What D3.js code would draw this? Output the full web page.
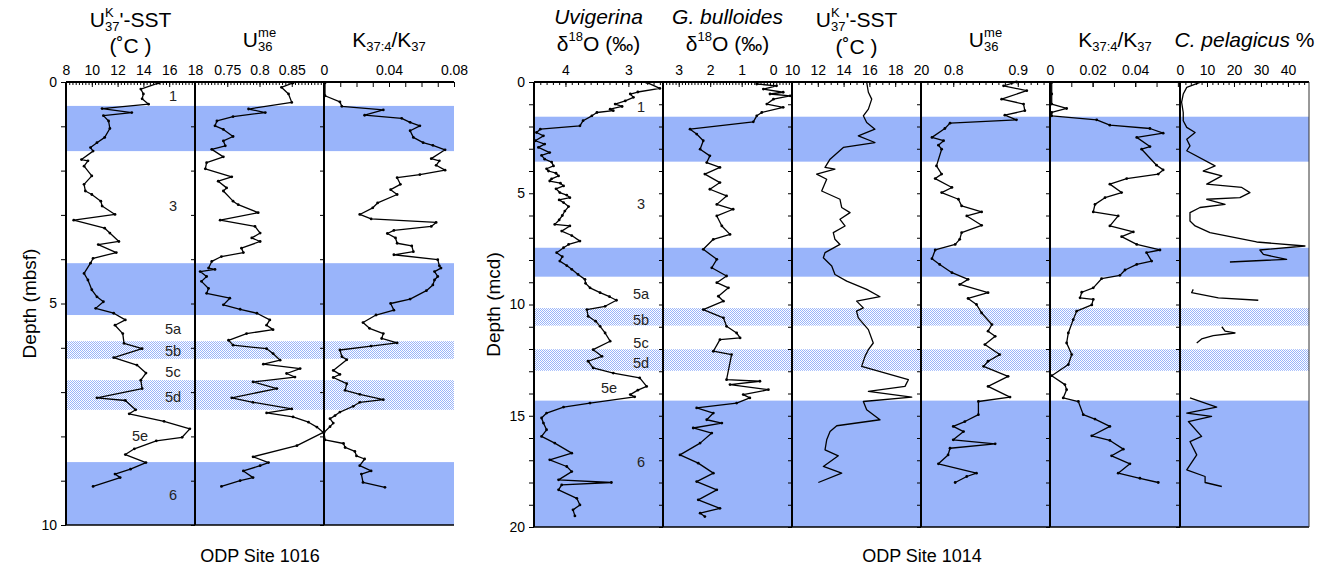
<!DOCTYPE html>
<html>
<head>
<meta charset="utf-8">
<script src="https://cdn.jsdelivr.net/npm/d3@7"></script>
<style>
body { margin: 0; background: #fff; }
text { font-family: "Liberation Sans", Arial, Helvetica, sans-serif; fill: #000; }
</style>
</head>
<body>
<svg width="1333" height="570"></svg>
<script>
// ---- data: [depth, value] ----
const sst1016 = [[0.02,15.2],[0.16,13.8],[0.27,14.0],[0.38,13.9],[0.5,14.4],[0.6,10.8],[0.69,13.1],[0.76,10.9],[0.88,11.3],[1.05,11.4],[1.25,11.0],[1.37,10.4],[1.48,9.9],[1.56,10.1],[1.75,9.2],[1.78,9.7],[1.9,9.4],[2.12,10.0],[2.31,9.4],[2.46,9.5],[2.54,10.0],[2.69,10.7],[2.8,10.8],[2.99,11.8],[3.12,8.6],[3.3,11.0],[3.41,11.4],[3.6,12.1],[3.67,10.5],[3.85,11.9],[3.98,10.1],[4.09,9.9],[4.32,9.4],[4.47,9.7],[4.69,10.0],[4.85,10.4],[4.96,10.9],[5.11,10.3],[5.22,11.7],[5.37,12.6],[5.49,11.8],[5.68,12.4],[5.9,12.5],[6.02,13.9],[6.22,11.7],[6.39,13.5],[6.57,14.2],[6.73,13.8],[6.92,13.9],[7.13,10.4],[7.19,12.6],[7.4,13.4],[7.49,12.9],[7.66,15.6],[7.83,17.6],[8.02,17.0],[8.1,15.0],[8.28,13.3],[8.41,12.6],[8.59,14.2],[8.74,13.0],[8.85,11.8],[8.93,12.2],[9.13,10.1]];

const ume1016 = [[0.02,0.852],[0.12,0.834],[0.27,0.845],[0.46,0.850],[0.61,0.783],[0.69,0.809],[0.78,0.759],[0.88,0.734],[0.99,0.731],[1.07,0.744],[1.23,0.759],[1.33,0.744],[1.44,0.747],[1.52,0.726],[1.69,0.744],[1.82,0.718],[1.96,0.716],[2.14,0.757],[2.24,0.736],[2.39,0.749],[2.46,0.744],[2.69,0.759],[2.77,0.767],[2.95,0.798],[3.12,0.739],[3.26,0.793],[3.41,0.801],[3.52,0.788],[3.6,0.801],[3.75,0.772],[3.85,0.775],[3.94,0.741],[4.05,0.726],[4.2,0.721],[4.23,0.731],[4.28,0.708],[4.39,0.718],[4.5,0.710],[4.66,0.721],[4.77,0.718],[4.88,0.754],[5.03,0.744],[5.13,0.770],[5.22,0.796],[5.37,0.816],[5.49,0.811],[5.59,0.821],[5.68,0.780],[5.83,0.752],[5.94,0.759],[6.02,0.811],[6.13,0.821],[6.28,0.832],[6.37,0.806],[6.47,0.863],[6.58,0.842],[6.66,0.855],[6.77,0.790],[6.92,0.827],[7.13,0.757],[7.23,0.790],[7.38,0.850],[7.47,0.811],[7.56,0.852],[7.68,0.876],[7.79,0.889],[7.91,0.899],[8.21,0.858],[8.46,0.790],[8.59,0.814],[8.66,0.801],[8.78,0.775],[8.93,0.790],[9.0,0.770],[9.13,0.741]];

const k1016 = [[0.02,0.0006],[0.31,0.0006],[0.45,0.0098],[0.55,0.011],[0.63,0.0365],[0.75,0.025],[0.82,0.0478],[0.91,0.053],[0.99,0.059],[1.1,0.053],[1.25,0.055],[1.37,0.061],[1.43,0.067],[1.53,0.0745],[1.73,0.066],[1.78,0.071],[1.88,0.069],[1.99,0.0745],[2.09,0.059],[2.16,0.045],[2.31,0.047],[2.43,0.041],[2.54,0.045],[2.73,0.033],[2.84,0.030],[2.99,0.022],[3.09,0.029],[3.17,0.069],[3.26,0.066],[3.35,0.043],[3.42,0.039],[3.52,0.044],[3.64,0.045],[3.7,0.054],[3.83,0.055],[3.9,0.043],[4.01,0.070],[4.15,0.071],[4.2,0.072],[4.28,0.068],[4.39,0.070],[4.47,0.068],[4.58,0.067],[4.71,0.063],[4.9,0.053],[5.0,0.041],[5.15,0.043],[5.26,0.032],[5.43,0.024],[5.56,0.028],[5.68,0.0365],[5.79,0.0355],[5.89,0.045],[5.96,0.029],[6.05,0.0098],[6.2,0.011],[6.27,0.014],[6.51,0.0057],[6.6,0.0098],[6.67,0.0057],[6.81,0.014],[6.96,0.013],[7.05,0.022],[7.17,0.0365],[7.23,0.022],[7.32,0.018],[7.45,0.0098],[7.53,0.0068],[7.6,0.0037],[7.7,0.0057],[7.78,0.0037],[7.91,0],[8.08,0.0006],[8.16,0.012],[8.25,0.013],[8.34,0.019],[8.44,0.020],[8.51,0.025],[8.66,0.022],[8.78,0.029],[8.85,0.023],[9.04,0.024],[9.15,0.0375]];

const uvig1014 = [[0.02,2.71],[0.29,2.50],[0.45,2.85],[0.54,2.97],[0.69,2.92],[0.85,3.05],[0.99,3.21],[1.1,3.1],[1.22,3.29],[1.29,3.24],[1.37,3.50],[1.52,3.58],[1.74,3.72],[1.97,3.77],[2.12,4.40],[2.27,4.46],[2.42,4.35],[2.64,4.48],[2.79,4.33],[2.94,4.43],[3.17,4.25],[3.3,4.38],[3.47,4.33],[3.6,4.22],[3.77,4.19],[3.9,4.3],[4.0,4.27],[4.1,4.15],[4.22,4.11],[4.35,4.22],[4.45,4.25],[4.55,4.08],[4.67,4.03],[4.8,4.15],[4.97,4.09],[5.08,3.98],[5.2,3.93],[5.3,4.1],[5.42,4.03],[5.6,3.95],[5.8,4.01],[6.0,4.05],[6.2,4.1],[6.4,4.17],[6.47,3.93],[6.7,4.06],[6.9,3.9],[7.15,3.77],[7.3,3.95],[7.45,4.03],[7.67,4.14],[7.85,4.05],[8.05,4.09],[8.25,3.98],[8.42,3.90],[8.65,3.8],[8.87,3.69],[9.05,3.68],[9.25,3.61],[9.47,3.45],[9.65,3.3],[9.81,3.19],[10.08,3.37],[10.23,3.66],[10.53,3.64],[10.75,3.52],[10.98,3.45],[11.28,3.37],[11.65,3.29],[12.03,3.56],[12.33,3.42],[12.55,3.64],[12.85,3.56],[13.08,3.24],[13.3,2.82],[13.68,2.71],[13.85,2.85],[14.05,2.97],[14.15,2.9],[14.43,3.61],[14.61,4.03],[14.88,4.30],[15.1,4.38],[15.33,4.35],[15.63,4.30],[15.93,4.38],[16.23,4.17],[16.68,3.90],[16.98,4.25],[17.28,3.98],[17.51,3.90],[17.88,4.11],[18.0,3.27],[18.11,4.06],[18.33,4.11],[18.71,3.82],[19.01,3.77],[19.23,3.88],[19.5,3.85]];

const bull1014 = [[0.09,0.52],[0.17,-0.11],[0.32,0.31],[0.46,-0.32],[0.54,0.1],[0.62,-0.54],[0.77,-0.01],[0.99,0.2],[1.14,-0.32],[1.37,0.36],[1.52,0.52],[1.79,0.63],[2.12,2.64],[2.34,2.43],[2.64,2.22],[3.02,2.32],[3.32,2.01],[3.62,2.11],[3.84,1.69],[4.14,2.17],[4.52,1.69],[4.82,2.01],[5.12,1.48],[5.5,1.79],[5.72,1.27],[6.02,1.79],[6.47,1.63],[6.85,1.37],[7.07,1.9],[7.52,2.22],[7.97,1.79],[8.35,1.95],[8.72,1.48],[9.02,1.79],[9.25,1.42],[9.63,1.74],[9.85,1.58],[10.23,2.22],[10.6,1.58],[10.98,1.48],[11.28,1.16],[11.5,1.05],[11.58,1.69],[12.1,1.9],[12.25,1.32],[13.38,1.48],[13.45,0.42],[13.6,1.37],[13.83,0.15],[14.05,0.95],[14.2,0.74],[14.43,1.16],[14.65,2.43],[14.88,1.9],[15.18,2.11],[15.33,1.63],[15.55,2.54],[15.78,1.95],[16.23,2.32],[16.76,2.96],[17.13,2.38],[17.58,1.9],[17.96,2.43],[18.33,1.79],[18.78,2.38],[19.16,1.69],[19.38,2.32],[19.53,2.17]];

const sst1014 = [[0.02,15.79],[0.46,15.92],[0.77,16.18],[1.22,15.92],[1.52,15.53],[1.82,15.79],[2.12,16.43],[2.42,15.14],[2.72,16.43],[2.94,13.98],[3.47,12.95],[3.84,12.56],[3.92,13.33],[4.14,11.91],[4.37,12.69],[4.9,12.30],[5.27,13.72],[5.64,13.85],[5.87,14.5],[6.17,13.72],[6.47,14.11],[6.77,13.2],[7.07,13.33],[7.3,13.72],[7.67,12.56],[7.9,12.43],[8.27,13.08],[8.65,13.33],[8.95,14.24],[9.32,15.79],[9.65,16.82],[9.85,15.01],[10.15,15.53],[10.3,15.0],[10.6,15.14],[11.13,15.92],[11.73,16.3],[12.03,15.92],[12.33,15.66],[12.78,15.4],[13.38,19.02],[13.68,18.76],[13.9,15.92],[14.16,19.28],[14.36,15.53],[14.73,15.79],[15.18,16.82],[15.45,13.47],[15.71,12.95],[16.08,12.69],[16.53,12.56],[16.8,13.59],[17.28,12.43],[17.58,13.85],[18.0,12.04]];

const ume1014 = [[0.0,0.898],[0.17,0.878],[0.39,0.914],[0.77,0.875],[0.99,0.909],[1.29,0.911],[1.49,0.880],[1.7,0.898],[1.85,0.795],[2.09,0.787],[2.49,0.767],[2.64,0.785],[2.84,0.777],[3.02,0.782],[3.77,0.774],[4.14,0.782],[4.34,0.772],[4.74,0.798],[4.97,0.782],[5.27,0.808],[5.57,0.813],[5.84,0.844],[6.02,0.821],[6.44,0.844],[6.77,0.813],[7.07,0.810],[7.3,0.803],[7.55,0.772],[7.94,0.767],[8.2,0.779],[8.57,0.798],[8.87,0.823],[9.1,0.810],[9.47,0.854],[9.73,0.823],[10.0,0.836],[10.38,0.844],[10.9,0.860],[11.2,0.854],[11.43,0.865],[11.8,0.849],[12.25,0.872],[12.55,0.854],[12.78,0.847],[13.23,0.885],[13.68,0.854],[14.16,0.888],[14.36,0.839],[14.95,0.839],[15.26,0.818],[15.48,0.800],[15.71,0.816],[16.08,0.800],[16.26,0.865],[16.46,0.795],[16.76,0.792],[17.16,0.777],[17.58,0.836],[17.73,0.821],[18.0,0.803]];

const k1014 = [[0.02,0.0008],[0.54,0.0008],[0.99,0.0008],[1.19,0.0078],[1.37,0.0008],[1.52,0.0008],[1.7,0.0219],[1.94,0.0281],[2.09,0.0469],[2.3,0.0531],[2.49,0.0407],[2.9,0.0469],[3.02,0.043],[3.74,0.050],[3.95,0.0531],[4.14,0.0508],[4.34,0.036],[4.59,0.0281],[4.97,0.0336],[5.2,0.0258],[5.5,0.0211],[5.84,0.0203],[6.02,0.032],[6.47,0.0281],[6.74,0.0391],[6.95,0.0336],[7.3,0.0407],[7.55,0.0516],[7.67,0.0453],[8.05,0.0477],[8.2,0.0407],[8.45,0.0352],[8.69,0.0328],[8.84,0.0242],[9.25,0.0203],[9.45,0.0149],[9.7,0.0141],[9.77,0.0203],[10.02,0.0196],[10.3,0.0125],[10.68,0.0109],[11.28,0.0086],[11.73,0.0078],[12.25,0.0102],[12.7,0.0086],[13.2,0.0008],[13.6,0.007],[13.83,0.0078],[14.2,0.0062],[14.36,0.0133],[14.95,0.0156],[15.15,0.0211],[15.48,0.0281],[15.9,0.0196],[16.11,0.0281],[16.5,0.0344],[16.8,0.0289],[17.16,0.0375],[17.58,0.032],[17.81,0.0422],[18.0,0.0508]];

// null = gap in the record
const cpel1014 = [[0.02,7.4],[0.24,2.5],[0.54,1.2],[0.91,0.6],[1.37,1.2],[1.74,1.2],[2.04,2.5],[2.27,5.6],[2.57,2.5],[2.87,3.7],[3.09,2.5],[3.77,13.0],[4.0,8.6],[4.22,15.5],[4.59,9.9],[4.74,22.9],[4.97,25.9],[5.2,22.2],[5.27,9.9],[5.5,16.7],[5.64,7.4],[5.87,3.7],[6.25,3.7],[6.47,5.6],[6.77,11.1],[7.19,28.4],[7.37,46.3],[7.55,29.6],[7.75,30.9],[7.97,39.5],[8.09,18.5],[8.5,null],[9.32,4.9],[9.47,4.3],[9.7,14.2],[9.81,29.0],[10.4,null],[11.0,15.5],[11.2,16.7],[11.28,20.4],[11.4,12.3],[11.55,8.0],[11.73,6.2],[13.0,null],[14.2,3.7],[14.61,13.6],[14.88,2.5],[15.03,11.7],[15.26,3.1],[15.93,8.0],[16.16,3.7],[16.76,6.2],[17.43,2.5],[17.73,9.3],[18.0,9.3],[18.18,15.5]];

// isotope stages: [top, bottom, kind]
const bands1016 = [[0.54,1.56,"solid"],[4.09,5.26,"solid"],[5.85,6.25,"hatch"],[6.73,7.4,"hatch"],[8.58,10,"solid"]];
const bands1014 = [[1.56,3.58,"solid"],[7.45,8.75,"solid"],[10.16,10.95,"hatch"],[12.01,12.98,"hatch"],[14.32,20,"solid"]];
const stages1016 = [["1",0.32],["3",2.81],["5a",5.58],["5b",6.08],["5c",6.55],["5d",7.1],["5e",7.98],["6",9.32]];
const stages1014 = [["1",1.13],["3",5.5],["5a",9.55],["5b",10.68],["5c",11.71],["5d",12.61],["5e",13.74],["6",17.07]];

const BLUE = "#99b4fa";
const svg = d3.select("svg");

const pat = svg.append("defs").append("pattern")
  .attr("id", "dots").attr("width", 2).attr("height", 2)
  .attr("patternUnits", "userSpaceOnUse");
pat.append("rect").attr("width", 2).attr("height", 2).attr("fill", "#fff");
pat.append("rect").attr("width", 1).attr("height", 1).attr("fill", BLUE);
pat.append("rect").attr("x", 1).attr("y", 1).attr("width", 1).attr("height", 1).attr("fill", BLUE);

// header text with super/subscripts; pieces with stack:true share x with the next piece
function rich(g, pieces, cx, baseline, size) {
  const grp = g.append("g");
  let x = 0, stackW = 0;
  pieces.forEach(p => {
    const fs = p.s ? size * 0.62 : size;
    const dy = p.s === "sup" ? -size * 0.46 : p.s === "sub" ? size * 0.18 : 0;
    const t = grp.append("text").attr("x", x).attr("y", dy)
      .attr("font-size", fs)
      .attr("font-style", p.i ? "italic" : null)
      .text(p.t);
    const w = t.node().getComputedTextLength();
    if (p.stack) { stackW = w; }
    else { x += Math.max(w, stackW); stackW = 0; }
  });
  grp.attr("transform", `translate(${cx - x / 2},${baseline})`);
}

const SST_H = [[{t:"U"},{t:"K",s:"sup",stack:true},{t:"37",s:"sub"},{t:"'-SST"}], [{t:"(˚C )"}]];
const UME_H = [[{t:"U"},{t:"me",s:"sup",stack:true},{t:"36",s:"sub"}]];
const K_H = [[{t:"K"},{t:"37:4",s:"sub"},{t:"/K"},{t:"37",s:"sub"}]];
const D18 = [{t:"δ"},{t:"18",s:"sup"},{t:"O (‰)"}];

const site1016 = {
  edges: [66, 195, 324, 454], yRange: [82, 525], depthMax: 10,
  bands: bands1016, stages: stages1016, stageX: 173, stage5eX: 140,
  title: "ODP Site 1016", titleX: 260, yTitle: "Depth (mbsf)", yTitleX: 29, rightEdge: false,
  panels: [
    {domain: [8, 18], labels: [8,10,12,14,16,18], minor: 0.25, data: sst1016, dots: true, head: SST_H, base: [27, 53]},
    {domain: [0.7, 0.9], labels: [0.75,0.8,0.85], minor: 0.005, data: ume1016, dots: true, head: UME_H, base: [47]},
    {domain: [0, 0.08], labels: [0,0.04,0.08], minor: 0.01, minorLen: 5, data: k1016, dots: true, head: K_H, base: [47]}
  ]
};

const site1014 = {
  edges: [534, 663, 792, 921, 1050, 1180, 1309], yRange: [82, 527], depthMax: 20,
  bands: bands1014, stages: stages1014, stageX: 641, stage5eX: 609,
  title: "ODP Site 1014", titleX: 922, yTitle: "Depth (mcd)", yTitleX: 493, rightEdge: true,
  panels: [
    {domain: [4.5, 2.45], labels: [4,3], minor: 0.1, data: uvig1014, dots: true, head: [[{t:"Uvigerina",i:true}], D18], base: [24, 51]},
    {domain: [3.5, -0.6], labels: [3,2,1,0], minor: 0.1, data: bull1014, dots: true, head: [[{t:"G. bulloides",i:true}], D18], base: [24, 51]},
    {domain: [10, 20], labels: [10,12,14,16,18,20], minor: 0.5, data: sst1014, dots: false, head: SST_H, base: [27, 54]},
    {domain: [0.75, 0.95], labels: [0.8,0.9], minor: 0.01, data: ume1014, dots: true, head: UME_H, base: [47]},
    {domain: [0, 0.061], labels: [0,0.02,0.04], minor: 0.01, minorLen: 5, data: k1014, dots: true, head: K_H, base: [47]},
    {domain: [0, 47.8], labels: [0,10,20,30,40], minor: 2, data: cpel1014, dots: false, head: [[{t:"C. pelagicus",i:true},{t:"\u00a0%"}]], base: [47]}
  ]
};

function drawSite(site) {
  const e = site.edges;
  const x0 = e[0], x1 = e[e.length - 1];
  const y = d3.scaleLinear().domain([0, site.depthMax]).range(site.yRange);
  const g = svg.append("g");

  g.append("g").selectAll("rect").data(site.bands).join("rect")
    .attr("x", x0).attr("width", x1 - x0)
    .attr("y", d => y(d[0])).attr("height", d => y(d[1]) - y(d[0]))
    .attr("fill", d => d[2] === "hatch" ? "url(#dots)" : BLUE);

  g.append("g").selectAll("text").data(site.stages).join("text")
    .attr("x", d => d[0] === "5e" ? site.stage5eX : site.stageX)
    .attr("y", d => y(d[1]))
    .attr("dominant-baseline", "central")
    .attr("text-anchor", "middle")
    .attr("font-size", 14.5)
    .style("fill", "#222")
    .text(d => d[0]);

  site.panels.forEach((p, i) => {
    const x = d3.scaleLinear().domain(p.domain).range([e[i], e[i + 1]]);
    const line = d3.line()
      .defined(d => d[1] != null)
      .x(d => x(d[1])).y(d => y(d[0]));
    g.append("path").datum(p.data)
      .attr("d", line)
      .attr("fill", "none").attr("stroke", "#000")
      .attr("stroke-width", 1.3).attr("stroke-linejoin", "round");
    if (p.dots) {
      g.append("g").selectAll("circle").data(p.data.filter(d => d[1] != null)).join("circle")
        .attr("cx", d => x(d[1])).attr("cy", d => y(d[0])).attr("r", 1.4);
    }

    // top axis: minor ticks, then labelled ticks
    const [lo, hi] = d3.extent(p.domain);
    const minor = d3.range(Math.ceil(lo / p.minor - 1e-6), Math.floor(hi / p.minor + 1e-6) + 1)
      .map(k => k * p.minor);
    g.append("g").attr("transform", `translate(0,${site.yRange[0]})`)
      .call(d3.axisTop(x).tickValues(minor).tickSize(-(p.minorLen || 3)).tickFormat(""))
      .call(a => a.select(".domain").remove());
    g.append("g").attr("transform", `translate(0,${site.yRange[0]})`)
      .call(d3.axisTop(x).tickValues(p.labels).tickSize(-5).tickPadding(7).tickFormat(d => d))
      .call(a => a.select(".domain").remove())
      .call(a => a.selectAll("text").attr("font-size", 14).attr("font-family", null));

    const cx = (e[i] + e[i + 1]) / 2;
    p.head.forEach((pieces, j) => rich(g, pieces, cx, p.base[j], 21));
  });

  // depth axis
  g.append("g").attr("transform", `translate(${x0},0)`)
    .call(d3.axisLeft(y).tickValues(d3.range(0, site.depthMax + 1)).tickSize(5).tickPadding(4)
      .tickFormat(d => d % 5 === 0 ? d : ""))
    .call(a => a.select(".domain").remove())
    .call(a => a.selectAll("text").attr("font-size", 14).attr("font-family", null));

  // ticks along the panel separators
  e.slice(1, -1).forEach(xs => {
    g.append("g").attr("transform", `translate(${xs},0)`)
      .call(d3.axisLeft(y).tickValues(d3.range(0, site.depthMax + 1)).tickSize(4).tickFormat(""))
      .call(a => a.select(".domain").remove());
  });

  // frame
  const [yt, yb] = site.yRange;
  const fr = g.append("g").attr("stroke", "#000");
  fr.append("line").attr("x1", x0).attr("x2", x1).attr("y1", yt).attr("y2", yt).attr("stroke-width", 2);
  fr.append("line").attr("x1", x0).attr("x2", x1).attr("y1", yb).attr("y2", yb).attr("stroke-width", 1.5);
  e.slice(0, -1).forEach(xs => {
    fr.append("line").attr("x1", xs).attr("x2", xs).attr("y1", yt).attr("y2", yb).attr("stroke-width", 2);
  });
  if (site.rightEdge) {
    fr.append("line").attr("x1", x1).attr("x2", x1).attr("y1", yt).attr("y2", yb)
      .attr("stroke-width", 1).attr("stroke", "#333");
  }

  g.append("text")
    .attr("transform", `translate(${site.yTitleX},${(yt + yb) / 2}) rotate(-90)`)
    .attr("text-anchor", "middle").attr("dominant-baseline", "central")
    .attr("font-size", 19).text(site.yTitle);
  g.append("text")
    .attr("x", site.titleX).attr("y", 562)
    .attr("text-anchor", "middle").attr("font-size", 18).text(site.title);
}

drawSite(site1016);
drawSite(site1014);
</script>
</body>
</html>
